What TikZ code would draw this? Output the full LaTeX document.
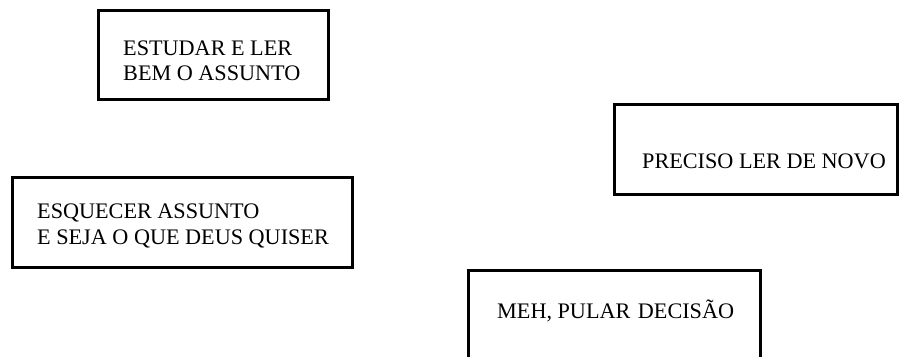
\documentclass[tikz,border=0pt]{standalone}
\usepackage{fontspec}
\setmainfont{Liberation Serif}
\begin{document}
\begin{tikzpicture}[x=1pt,y=-1pt,
  box/.style={draw=black,line width=3pt,inner sep=0pt,fill=none},
  lbl/.style={anchor=base west,inner sep=0pt,font=\fontsize{22.2}{26}\selectfont,text=black}]
\useasboundingbox[fill=white] (0,0) rectangle (899,356);
% boxes
\draw[box] (98,10) rectangle (328,99);
\draw[box] (614,104) rectangle (897,194);
\draw[box] (12,177) rectangle (352,267);
\draw[box] (468,270) rectangle (760,362);
% texts
\node[lbl] (t1a) at (123,55) {ESTUDAR E LER};
\node[lbl] (t1b) at (123,80) {BEM O ASSUNTO};
\node[lbl] (t2) at (642,168) {PRECISO LER DE NOVO};
\node[lbl] (t3a) at (37,218) {ESQUECER ASSUNTO};
\node[lbl] (t3b) at (37,244) {E SEJA O QUE DEUS QUISER};
\node[lbl] (t4) at (497,318) {MEH, PULAR\hspace{2pt} DECISÃO};
\end{tikzpicture}
\end{document}
